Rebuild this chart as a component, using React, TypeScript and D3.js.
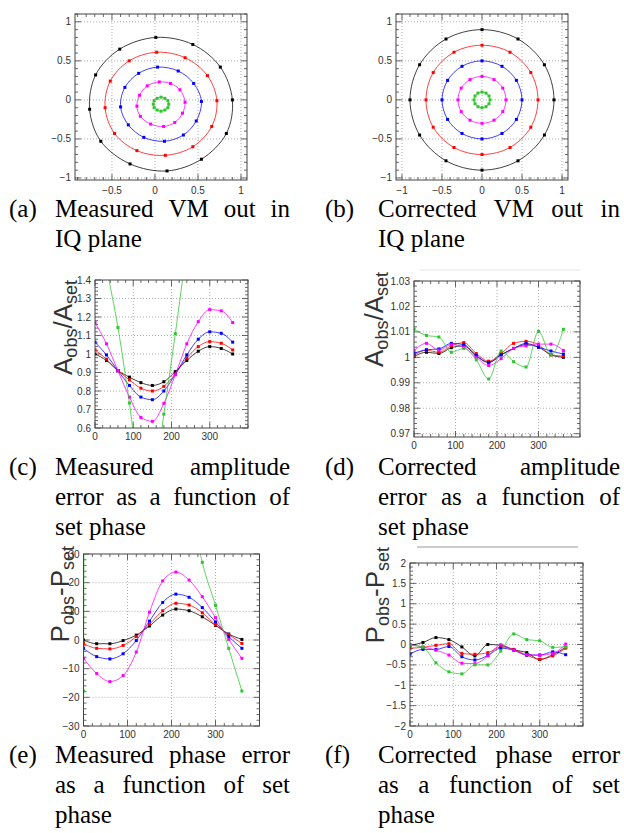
import React, { useRef, useEffect } from 'react';
import * as d3 from 'd3';

const W = 624;
const H = 833;

// ROOT-like palette: black, red, blue, magenta, green
const colors = ['#000000', '#ff0000', '#0000ff', '#ff00ff', '#2ec52e'];

// set phase in degrees
const phases = [0, 30, 60, 90, 120, 150, 180, 210, 240, 270, 300, 330, 360];

// (a) measured VM output in the IQ plane, [I, Q]
const measBlack = [[0.01, 0.8], [0.44, 0.71], [0.76, 0.42], [0.9, 0.0], [0.83, -0.43], [0.54, -0.76], [0.14, -0.91], [-0.29, -0.82], [-0.63, -0.53], [-0.76, -0.12], [-0.69, 0.32], [-0.41, 0.65]];
const measRed = [[0.02, 0.61], [0.35, 0.54], [0.61, 0.31], [0.72, -0.01], [0.66, -0.34], [0.44, -0.6], [0.12, -0.71], [-0.21, -0.65], [-0.47, -0.43], [-0.58, -0.1], [-0.52, 0.24], [-0.3, 0.5]];
const measBlue = [[0.03, 0.42], [0.27, 0.37], [0.45, 0.21], [0.54, -0.02], [0.48, -0.27], [0.33, -0.45], [0.11, -0.53], [-0.13, -0.48], [-0.31, -0.32], [-0.4, -0.09], [-0.35, 0.16], [-0.19, 0.34]];
const measMagenta = [[0.05, 0.23], [0.18, 0.21], [0.29, 0.13], [0.35, -0.03], [0.32, -0.17], [0.23, -0.29], [0.1, -0.34], [-0.05, -0.31], [-0.17, -0.21], [-0.21, -0.08], [-0.18, 0.06], [-0.09, 0.18]];
const measGreen = [[0.07, 0.035], [0.115, 0.02], [0.15, -0.01], [0.16, -0.055], [0.15, -0.1], [0.115, -0.13], [0.07, -0.145], [0.025, -0.13], [-0.01, -0.1], [-0.02, -0.055], [-0.01, -0.01], [0.025, 0.02]];

// (b) corrected VM output in the IQ plane, [I, Q]
const corrBlack = [[0, 0.9], [0.45, 0.78], [0.78, 0.45], [0.9, 0], [0.78, -0.45], [0.45, -0.78], [0, -0.9], [-0.45, -0.78], [-0.78, -0.45], [-0.9, 0], [-0.78, 0.45], [-0.45, 0.78]];
const corrRed = [[0, 0.7], [0.35, 0.61], [0.61, 0.35], [0.7, 0], [0.61, -0.35], [0.35, -0.61], [0, -0.7], [-0.35, -0.61], [-0.61, -0.35], [-0.7, 0], [-0.61, 0.35], [-0.35, 0.61]];
const corrBlue = [[0, 0.5], [0.25, 0.43], [0.43, 0.25], [0.5, 0], [0.43, -0.25], [0.25, -0.43], [0, -0.5], [-0.25, -0.43], [-0.43, -0.25], [-0.5, 0], [-0.43, 0.25], [-0.25, 0.43]];
const corrMagenta = [[0, 0.3], [0.15, 0.26], [0.26, 0.15], [0.3, 0], [0.26, -0.15], [0.15, -0.26], [0, -0.3], [-0.15, -0.26], [-0.26, -0.15], [-0.3, 0], [-0.26, 0.15], [-0.15, 0.26]];
const corrGreen = [[0, 0.1], [0.05, 0.087], [0.087, 0.05], [0.1, 0], [0.087, -0.05], [0.05, -0.087], [0, -0.1], [-0.05, -0.087], [-0.087, -0.05], [-0.1, 0], [-0.087, 0.05], [-0.05, 0.087]];

// (c) measured amplitude ratio vs set phase
const ampMeasBlack = [1.0, 0.965, 0.91, 0.875, 0.845, 0.83, 0.85, 0.905, 0.965, 1.015, 1.04, 1.03, 1.0];
const ampMeasRed = [1.022, 0.972, 0.91, 0.86, 0.815, 0.8, 0.825, 0.893, 0.978, 1.04, 1.067, 1.058, 1.022];
const ampMeasBlue = [1.064, 0.995, 0.91, 0.83, 0.767, 0.753, 0.8, 0.89, 0.995, 1.08, 1.12, 1.112, 1.064];
const ampMeasMagenta = [1.17, 1.055, 0.91, 0.767, 0.657, 0.636, 0.733, 0.888, 1.055, 1.175, 1.24, 1.233, 1.17];
const ampMeasGreen = [1.8, 1.47, 1.143, 0.735, 0.3, 0.25, 0.675, 1.11, 1.55, 1.8, 1.9, 1.85, 1.8];

// (d) corrected amplitude ratio vs set phase
const ampCorrBlack = [1.0003, 1.002, 1.0015, 1.0038, 1.0045, 1.0005, 0.998, 1.001, 1.0035, 1.005, 1.004, 1.001, 1.0];
const ampCorrRed = [1.0008, 1.0028, 1.002, 1.0045, 1.0058, 1.0015, 0.9985, 1.0015, 1.0055, 1.0063, 1.005, 1.001, 1.0005];
const ampCorrBlue = [1.0015, 1.003, 1.0033, 1.0055, 1.005, 1.0008, 0.998, 1.001, 1.0035, 1.0055, 1.004, 1.0025, 1.0013];
const ampCorrMagenta = [1.0027, 1.0055, 1.0028, 1.005, 1.004, 1.0, 0.9968, 0.9995, 1.0035, 1.0045, 1.0052, 1.0052, 1.0027];
const ampCorrGreen = [1.0111, 1.0086, 1.008, 1.002, 1.0035, 0.999, 0.9915, 1.0025, 0.9983, 0.9962, 1.0102, 1.001, 1.011];

// (e) measured phase error vs set phase
const phMeasBlack = [0, -1.3, -1.3, -0.2, 1.7, 4.9, 8.7, 10.8, 10.2, 8.1, 5.1, 2.1, 0.2];
const phMeasRed = [-1.2, -2.9, -3.1, -1.9, 1.2, 5.5, 10.2, 12.8, 12.2, 9.5, 5.3, 1.9, -1.2];
const phMeasBlue = [-2.9, -5.8, -6.6, -4.8, -0.2, 6.6, 13.1, 16.0, 14.9, 11.3, 6.3, 1.2, -2.9];
const phMeasMagenta = [-6.4, -11.7, -14.5, -12.4, -4.2, 9.7, 20.6, 23.7, 20.9, 15.1, 7.8, 0.2, -6.4];
const phMeasGreen = [-17.8, 900, 850, 700, 500, 300, 160, 90, 50, 27.1, 12.1, -2.9, -17.8];

// (f) corrected phase error vs set phase
const phCorrBlack = [-0.02, 0.05, 0.17, 0.12, -0.06, -0.28, 0.0, -0.02, -0.13, -0.2, -0.37, -0.25, -0.07];
const phCorrRed = [-0.09, -0.07, -0.02, 0.02, -0.22, -0.24, -0.2, -0.06, -0.12, -0.26, -0.36, -0.28, -0.09];
const phCorrBlue = [-0.24, -0.12, -0.12, -0.05, -0.3, -0.38, -0.27, -0.09, -0.14, -0.26, -0.26, -0.18, -0.25];
const phCorrMagenta = [0.0, -0.06, -0.14, -0.26, -0.46, -0.47, -0.28, -0.01, -0.14, -0.25, -0.26, -0.22, 0.01];
const phCorrGreen = [-0.02, -0.07, -0.45, -0.67, -0.72, -0.5, -0.5, -0.16, 0.26, 0.12, 0.09, -0.07, -0.06];

// tick values
const iqTicksA = [-0.5, 0, 0.5, 1];
const iqTicksB = [-1, -0.5, 0, 0.5, 1];
const iqTicksY = [-1, -0.5, 0, 0.5, 1];
const phaseTicks = [0, 100, 200, 300];
const ampMeasTicks = [0.6, 0.7, 0.8, 0.9, 1, 1.1, 1.2, 1.3, 1.4];
const ampCorrTicks = [0.97, 0.98, 0.99, 1, 1.01, 1.02, 1.03];
const phMeasTicks = [-30, -20, -10, 0, 10, 20, 30];
const phCorrTicks = [-2, -1.5, -1, -0.5, 0, 0.5, 1, 1.5, 2];

// captions: label + text lines (all but the last are justified)
const captions = [
  { label: '(a)', lines: ['Measured VM out in', 'IQ plane'] },
  { label: '(b)', lines: ['Corrected VM out in', 'IQ plane'] },
  { label: '(c)', lines: ['Measured amplitude', 'error as a function of', 'set phase'] },
  { label: '(d)', lines: ['Corrected amplitude', 'error as a function of', 'set phase'] },
  { label: '(e)', lines: ['Measured phase error', 'as a function of set', 'phase'] },
  { label: '(f)', lines: ['Corrected phase error', 'as a function of set', 'phase'] },
];

const fmt = d3.format('~g');

const panels = [
  {
    kind: 'iq', box: [75, 247, 14, 180], xd: [-0.93, 1.07], yd: [-1.026, 1.1],
    xt: iqTicksA, xm: 0.1, yt: iqTicksY, ym: 0.1, title: null,
    series: [measBlack, measRed, measBlue, measMagenta, measGreen],
  },
  {
    kind: 'iq', box: [396, 568, 14, 180], xd: [-1.075, 1.075], yd: [-1.026, 1.1],
    xt: iqTicksB, xm: 0.1, yt: iqTicksY, ym: 0.1, title: null,
    series: [corrBlack, corrRed, corrBlue, corrMagenta, corrGreen],
  },
  {
    kind: 'phase', box: [95, 248, 280, 428], xd: [0, 400], yd: [0.6, 1.4],
    xt: phaseTicks, xm: 20, yt: ampMeasTicks, ym: 0.02,
    title: { main: 'A', sep: '/', bx: 72, end: 280 },
    series: [ampMeasBlack, ampMeasRed, ampMeasBlue, ampMeasMagenta, ampMeasGreen],
  },
  {
    kind: 'phase', box: [414, 580, 281, 437], xd: [0, 400], yd: [0.9687, 1.03],
    xt: phaseTicks, xm: 20, yt: ampCorrTicks, ym: 0.002,
    title: { main: 'A', sep: '/', bx: 383, end: 272 },
    series: [ampCorrBlack, ampCorrRed, ampCorrBlue, ampCorrMagenta, ampCorrGreen],
  },
  {
    kind: 'phase', box: [83.5, 259.5, 554, 726], xd: [0, 400], yd: [-30, 30],
    xt: phaseTicks, xm: 20, yt: phMeasTicks, ym: 2,
    title: { main: 'P', sep: '-', bx: 69, end: 546 },
    series: [phMeasBlack, phMeasRed, phMeasBlue, phMeasMagenta, phMeasGreen],
  },
  {
    kind: 'phase', box: [410, 583, 563, 726], xd: [0, 400], yd: [-2, 2],
    xt: phaseTicks, xm: 20, yt: phCorrTicks, ym: 0.1,
    title: { main: 'P', sep: '-', bx: 384, end: 547 },
    series: [phCorrBlack, phCorrRed, phCorrBlue, phCorrMagenta, phCorrGreen],
  },
];

const minorRange = (d: number[], step: number) => {
  const out: number[] = [];
  const start = Math.ceil(d[0] / step - 1e-6);
  const stop = Math.floor(d[1] / step + 1e-6);
  for (let i = start; i <= stop; i++) out.push(+(i * step).toFixed(6));
  return out;
};

function drawPanel(svg: any, p: any, idx: number) {
  const [x0, x1, y0, y1] = p.box;
  const x = d3.scaleLinear().domain(p.xd).range([x0, x1]);
  const y = d3.scaleLinear().domain(p.yd).range([y1, y0]);
  const g = svg.append('g');

  g.append('rect').attr('x', x0).attr('y', y0).attr('width', x1 - x0).attr('height', y1 - y0).attr('fill', '#fff');

  // dotted grid at the major ticks
  const grid = g.append('g').attr('stroke', '#9a9a9a').attr('stroke-width', 0.8).attr('stroke-dasharray', '1,2');
  grid.selectAll('.gx').data(p.xt.filter((v: number) => x(v) > x0 + 1 && x(v) < x1 - 1)).join('line')
    .attr('x1', (d: number) => x(d)).attr('x2', (d: number) => x(d)).attr('y1', y0).attr('y2', y1);
  grid.selectAll('.gy').data(p.yt.filter((v: number) => y(v) > y0 + 1 && y(v) < y1 - 1)).join('line')
    .attr('y1', (d: number) => y(d)).attr('y2', (d: number) => y(d)).attr('x1', x0).attr('x2', x1);

  // ticks on all four sides, pointing inward
  const ticks = g.append('g').attr('stroke', '#444').attr('stroke-width', 0.8);
  const xMinor = minorRange(p.xd, p.xm);
  const yMinor = minorRange(p.yd, p.ym);
  const isMajor = (v: number, list: number[]) => list.some(t => Math.abs(t - v) < 1e-6);
  xMinor.forEach(v => {
    const len = isMajor(v, p.xt) ? 6 : 3;
    ticks.append('line').attr('x1', x(v)).attr('x2', x(v)).attr('y1', y1).attr('y2', y1 - len);
    ticks.append('line').attr('x1', x(v)).attr('x2', x(v)).attr('y1', y0).attr('y2', y0 + len);
  });
  yMinor.forEach(v => {
    const len = isMajor(v, p.yt) ? 6 : 3;
    ticks.append('line').attr('y1', y(v)).attr('y2', y(v)).attr('x1', x0).attr('x2', x0 + len);
    ticks.append('line').attr('y1', y(v)).attr('y2', y(v)).attr('x1', x1).attr('x2', x1 - len);
  });

  // data
  const clipId = `clip${idx}`;
  g.append('clipPath').attr('id', clipId).append('rect')
    .attr('x', x0).attr('y', y0).attr('width', x1 - x0).attr('height', y1 - y0);
  const plot = g.append('g').attr('clip-path', `url(#${clipId})`);

  p.series.forEach((s: any[], i: number) => {
    const pts: [number, number][] = p.kind === 'iq'
      ? s.map((d: number[]) => [x(d[0]), y(d[1])])
      : s.map((v: number, k: number) => [x(phases[k]), y(v)]);
    const line = d3.line().curve(p.kind === 'iq' ? d3.curveCatmullRomClosed : d3.curveMonotoneX);
    plot.append('path').attr('d', line(pts)).attr('fill', 'none')
      .attr('stroke', colors[i]).attr('stroke-width', 1).attr('stroke-opacity', 0.75);
    plot.selectAll(null).data(pts).join('rect')
      .attr('x', (d: number[]) => d[0] - 1.5).attr('y', (d: number[]) => d[1] - 1.5)
      .attr('width', 3).attr('height', 3).attr('fill', colors[i]);
  });

  g.append('rect').attr('x', x0).attr('y', y0).attr('width', x1 - x0).attr('height', y1 - y0)
    .attr('fill', 'none').attr('stroke', '#444').attr('stroke-width', 1);

  // tick labels
  const lab = g.append('g').attr('font-family', '"Liberation Sans", Arial, sans-serif')
    .attr('font-size', 10).attr('fill', '#333');
  p.xt.forEach((v: number) => {
    lab.append('text').attr('x', x(v)).attr('y', y1 + (p.kind === 'iq' ? 14 : 12))
      .attr('text-anchor', 'middle').text(fmt(v));
  });
  p.yt.forEach((v: number) => {
    lab.append('text').attr('x', x0 - 4).attr('y', y(v)).attr('dy', '0.35em')
      .attr('text-anchor', 'end').text(fmt(v));
  });

  // rotated axis title with subscripts, e.g. A_obs/A_set
  if (p.title) {
    const t = g.append('text')
      .attr('transform', `translate(${p.title.bx},${p.title.end}) rotate(-90)`)
      .attr('text-anchor', 'end')
      .attr('font-family', '"Liberation Sans", Arial, sans-serif')
      .attr('fill', '#333');
    t.append('tspan').attr('font-size', 26).text(p.title.main);
    t.append('tspan').attr('font-size', 18).attr('dy', 5).text('obs');
    t.append('tspan').attr('font-size', 26).attr('dy', -5).text(p.title.sep);
    t.append('tspan').attr('font-size', 26).text(p.title.main);
    t.append('tspan').attr('font-size', 18).attr('dy', 5).text('set');
  }
}

function drawCaption(svg: any, cap: any, col: number, baseY: number) {
  const labelX = col === 0 ? 9 : 325;
  const textX0 = col === 0 ? 55 : 378;
  const textX1 = col === 0 ? 290 : 620;
  const g = svg.append('g').attr('font-family', '"Liberation Serif", "Times New Roman", serif')
    .attr('font-size', 25).attr('fill', '#000');
  g.append('text').attr('x', labelX).attr('y', baseY).text(cap.label);
  cap.lines.forEach((ln: string, li: number) => {
    const yy = baseY + li * 30;
    const words = ln.split(' ');
    const nodes = words.map(w => g.append('text').attr('y', yy).text(w));
    const widths = nodes.map(n => n.node().getComputedTextLength());
    const last = li === cap.lines.length - 1;
    const gap = !last && words.length > 1
      ? (textX1 - textX0 - d3.sum(widths)) / (words.length - 1)
      : 6.25;
    let xx = textX0;
    nodes.forEach((n, i) => { n.attr('x', xx); xx += widths[i] + gap; });
  });
}

const App = () => {
  const svgRef = useRef<SVGSVGElement>(null);

  useEffect(() => {
    const svg = d3.select(svgRef.current);
    svg.selectAll('*').remove();
    svg.append('rect').attr('width', W).attr('height', H).attr('fill', '#fff');

    // faint scan lines at the top of (d) and (f)
    svg.append('line').attr('x1', 420).attr('x2', 580).attr('y1', 270).attr('y2', 270)
      .attr('stroke', '#e6e6e6').attr('stroke-width', 1);
    svg.append('line').attr('x1', 417).attr('x2', 578).attr('y1', 547).attr('y2', 547)
      .attr('stroke', '#999').attr('stroke-width', 1.2);

    panels.forEach((p, i) => drawPanel(svg, p, i));

    const capY = [217, 217, 475, 475, 763, 763];
    captions.forEach((c, i) => drawCaption(svg, c, i % 2, capY[i]));
  }, []);

  return (
    <svg ref={svgRef} width={W} height={H}
      style={{ position: 'absolute', left: 0, top: 0, display: 'block' }} />
  );
};

export default App;
